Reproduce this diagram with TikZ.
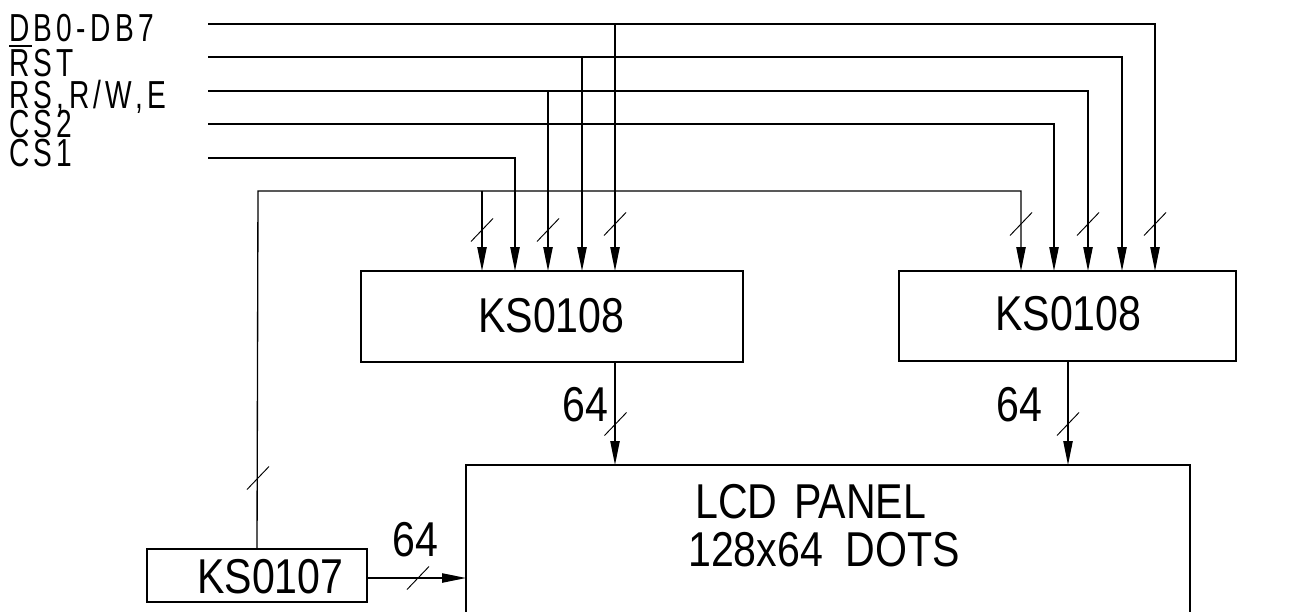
\documentclass[tikz,border=0pt]{standalone}
\usepackage{fontspec}
\setmainfont{Liberation Sans}
\newfontfamily\bigf{Liberation Sans}[FakeStretch=0.84]
\newfontfamily\lblf{Liberation Sans}[FakeStretch=0.72,LetterSpace=11]
\usetikzlibrary{arrows.meta,calc}
\tikzset{
  wire/.style={line width=1pt},
  arr/.style={wire,-{Triangle[length=18pt,width=7pt]}},
  box/.style={draw,line width=1pt,inner sep=0pt,outer sep=0pt},
  txt/.style={inner sep=0pt,anchor=base west,font=\bigf\fontsize{36.7}{40}\selectfont},
  lbl/.style={inner sep=0pt,anchor=base west,font=\lblf\fontsize{29.3}{32}\selectfont},
  bm/.pic={\draw[line width=0.7pt] (-11,11.5) -- (11,-11.5);}
}
\begin{document}
\begin{tikzpicture}[x=0.75pt,y=-0.75pt]
\useasboundingbox (0,0) rectangle (1302,611);
\clip (0,0) rectangle (1302,611);

% boxes
\node[box,minimum width=286.5pt,minimum height=68.25pt] (ks1) at (552,316.5) {};
\node[box,minimum width=252.75pt,minimum height=67.5pt] (ks2) at (1067.5,316) {};
\node[box,minimum width=165pt,minimum height=39.75pt] (ks7) at (257,575.5) {};
\node[box,minimum width=543pt,minimum height=131.25pt] (lcd) at (828,552.5) {};

% texts
\node[txt] (ks1t) at (478,332) {KS0108};
\node[txt] (ks2t) at (995,330) {KS0108};
\node[txt] (ks7t) at (197,593) {KS0107};
\node[txt] (lcdt1) at (695,518) {LCD\hspace{4pt} PANEL};
\node[txt] (lcdt2) at (688,566) {128x64\ \ DOTS};
\node[txt] (n64a) at (562,421) {64};
\node[txt] (n64b) at (996,421) {64};
\node[txt] (n64c) at (392,556) {64};

% input labels
\node[lbl] (lDB) at (9,41) {DB0-DB7};
\node[lbl] (lRST) at (9,76) {RST};
\node[lbl] (lRS) at (9,108) {RS,R/W,E};
\node[lbl] (lCS2) at (9,137) {CS2};
\node[lbl] (lCS1) at (9,166) {CS1};
\draw[line width=0.9pt] ($(lRST.base west)+(0,-30)$) -- ++(23,0);

% coordinates
\coordinate (inDB) at (208,24);
\coordinate (inRST) at (208,57);
\coordinate (inRS) at (208,91);
\coordinate (inCS2) at (208,124);
\coordinate (inCS1) at (208,158);
\coordinate (l1) at (482,271);
\coordinate (l2) at (515,271);
\coordinate (l3) at (548,271);
\coordinate (l4) at (582,271);
\coordinate (l5) at (615,271);
\coordinate (r1) at (1021,271);
\coordinate (r2) at (1054,271);
\coordinate (r3) at (1088,271);
\coordinate (r4) at (1122,271);
\coordinate (r5) at (1155,271);
\coordinate (busL) at (258,191);
\coordinate (o1) at (615,362);
\coordinate (o2) at (1068,361);
\coordinate (lcdL) at (466,578);
\coordinate (ks7R) at (367,578);

% input wires
\draw[arr] (inDB) -| (r5);
\draw[arr] (inDB -| l5) -- (l5);
\draw[arr] (inRST) -| (r4);
\draw[arr] (inRST -| l4) -- (l4);
\draw[arr] (inRS) -| (r3);
\draw[arr] (inRS -| l3) -- (l3);
\draw[arr] (inCS2) -| (r2);
\draw[arr] (inCS1) -| (l2);
\draw[arr] (ks7.north) -- (busL) -| (r1);
\draw[arr] (busL -| l1) -- (l1);

% outputs
\draw[arr] (o1) -- (o1 |- lcd.north);
\draw[arr] (o2) -- (o2 |- lcd.north);
\draw[arr] (ks7R) -- (lcdL);

% bus marks
\pic at (482,230) {bm};
\pic at (548,230) {bm};
\pic at (615,224) {bm};
\pic at (1021,224) {bm};
\pic at (1088,224) {bm};
\pic at (1155,224) {bm};
\pic at (615.5,424) {bm};
\pic at (1068,424) {bm};
\pic at (418,578) {bm};
\pic at (258,478) {bm};
\end{tikzpicture}
\end{document}
